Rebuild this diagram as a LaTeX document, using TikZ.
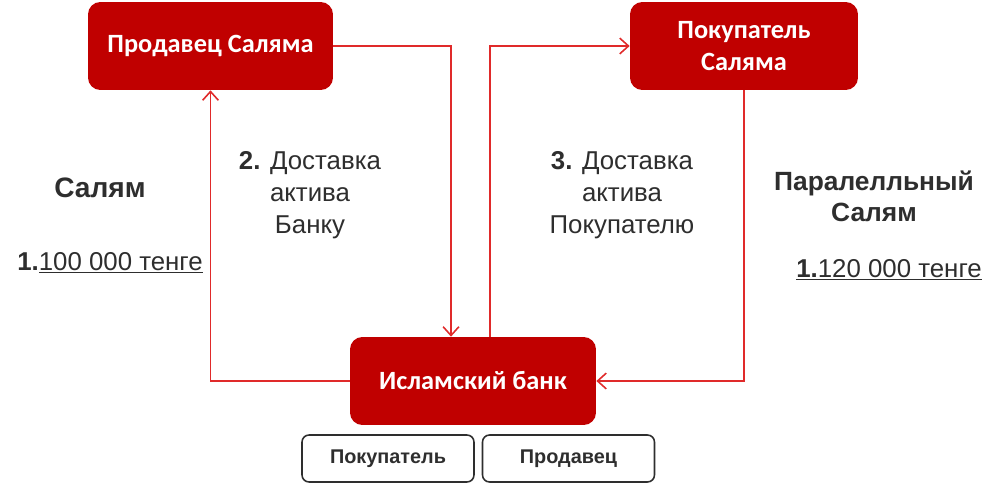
\documentclass[tikz,border=0pt]{standalone}
\usepackage{fontspec}
\setmainfont{Liberation Sans}
\newfontfamily\boxfont{Carlito}
\usepackage{xcolor}
\usetikzlibrary{arrows.meta, calc}

\definecolor{boxred}{HTML}{C00000}
\definecolor{linered}{HTML}{E02A2A}
\definecolor{txtgray}{HTML}{2E2E2E}

\begin{document}
\begin{tikzpicture}[
    x=0.02cm, y=-0.02cm,
    party/.style={rectangle, fill=boxred, rounded corners=7pt,
                  minimum height=1.76cm, align=center, text=white,
                  font=\boxfont\bfseries\fontsize{15}{18}\selectfont},
    role/.style={rectangle, draw=txtgray, line width=0.9pt, rounded corners=4pt,
                 minimum width=3.44cm, minimum height=0.94cm, text=txtgray,
                 font=\bfseries\fontsize{11.3}{13}\selectfont},
    note/.style={align=center, text=txtgray, inner sep=0pt,
                 font=\fontsize{14.7}{18.2}\selectfont},
    title/.style={note, font=\bfseries\fontsize{15}{17.8}\selectfont},
    arrow/.style={-{Straight Barb[length=5pt, width=9pt]}, linered, line width=0.9pt}
]

%% --- Frame ---
\useasboundingbox (0,0) rectangle (1000,486);

%% --- Parties ---
\node[party, minimum width=4.9cm]  (seller) at (210.5,46) {Продавец Саляма};
\node[party, minimum width=4.56cm] (buyer)  at (744,46)   {Покупатель\\Саляма};
\node[party, minimum width=4.92cm] (bank)   at (473,381)  {Исламский банк};

%% --- Roles of the bank ---
\node[role] (asbuyer)  at (388,458.5) {Покупатель};
\node[role] (asseller) at (568.5,458.5) {Продавец};

%% --- Labels ---
\node[title, font=\bfseries\fontsize{16}{19}\selectfont] (salam) at (100,188) {Салям};
\node[note]  (price1) at (110,263) {\textbf{1.}\underline{100 000 тенге}};
\node[note]  (step2)  at (310,195) {\textbf{2.} Доставка\\актива\\Банку};
\node[note]  (step3)  at (622,195) {\textbf{3.} Доставка\\актива\\Покупателю};
\node[title] (psalam) at (874,196) {Паралелльный\\Салям};
\node[note]  (price2) at (889,270) {\underline{\textbf{1.}120 000 тенге}};

%% --- Flows ---
\draw[arrow] (seller.east) -| ([xshift=-0.44cm]bank.north);
\draw[arrow] ([xshift=0.34cm]bank.north) |- (buyer.west);
\draw[arrow] (buyer.south) |- (bank.east);
\draw[arrow] (bank.west) -| (seller.south);

\end{tikzpicture}
\end{document}
